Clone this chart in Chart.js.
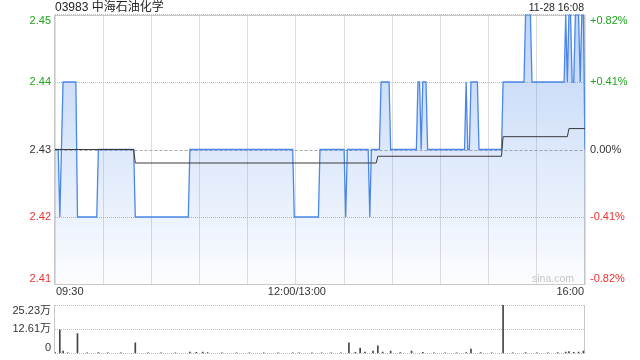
<!DOCTYPE html>
<html>
<head>
<meta charset="utf-8">
<script src="https://cdn.jsdelivr.net/npm/chart.js@4"></script>
<style>
body { margin: 0; background: #fff; }
#wrap { position: relative; width: 640px; height: 360px; overflow: hidden; }
canvas { position: absolute; left: 0; }
#price { top: 0; }
#volume { top: 300px; }
</style>
</head>
<body>
<div id="wrap">
<canvas id="price" width="640" height="300"></canvas>
<canvas id="volume" width="640" height="60"></canvas>
</div>
<script>
const stockName = '03983 中海石油化学';
const stampText = '11-28 16:08';
const prevClose = 2.43;
const priceTicks = [2.41, 2.42, 2.43, 2.44, 2.45];
const pctLabels = ['-0.82%', '-0.41%', '0.00%', '+0.41%', '+0.82%'];
const timeLabels = ['09:30', '12:00/13:00', '16:00'];
const timeLabelAt = [0, 150, 330];

// trading minutes from 09:30 (lunch removed), price at the minutes where it changes
const priceMinutes = [0, 2, 3, 4, 5, 13, 14, 26, 27, 49, 50, 83, 84, 148, 149, 164, 165,
  180, 181, 182, 195, 196, 197, 202, 203, 208, 209, 225, 226, 227, 228, 229, 231, 232,
  255, 256, 257, 258, 259, 263, 264, 278, 279, 292, 293, 296, 297,
  317, 318, 319, 320, 321, 322, 323, 324, 326, 327, 328, 329, 330];
const priceValues = [2.43, 2.43, 2.42, 2.43, 2.44, 2.44, 2.42, 2.42, 2.43, 2.43, 2.42, 2.42, 2.43, 2.43, 2.42, 2.42, 2.43,
  2.43, 2.42, 2.43, 2.43, 2.42, 2.43, 2.43, 2.44, 2.44, 2.43, 2.43, 2.44, 2.44, 2.43, 2.44, 2.44, 2.43,
  2.43, 2.44, 2.43, 2.43, 2.44, 2.44, 2.43, 2.43, 2.44, 2.44, 2.45, 2.45, 2.44,
  2.44, 2.45, 2.44, 2.45, 2.45, 2.44, 2.44, 2.45, 2.45, 2.44, 2.45, 2.45, 2.43];

const avgMinutes = [0, 49, 50, 200, 201, 278, 279, 319, 320, 330];
const avgValues = [2.43, 2.43, 2.428, 2.428, 2.429, 2.429, 2.4319, 2.4319, 2.4331, 2.4331];

// volume, 万股
const volMinutes = [0, 3, 5, 8, 14, 20, 27, 33, 41, 50, 58, 66, 75, 84, 88, 92, 95, 104, 113, 121,
  130, 139, 148, 152, 160, 166, 172, 178, 183, 187, 190, 193, 198, 201, 204, 209, 215, 222, 229,
  236, 243, 250, 256, 259, 265, 272, 279, 285, 293, 300, 307, 313, 318, 320, 323, 326, 329];
const volValues = [0.6, 12.3, 1.3, 0.4, 10.3, 0.3, 0.5, 0.3, 0.3, 5.6, 0.3, 0.3, 0.3, 0.8, 0.6, 0.8, 0.5, 0.3, 0.3, 0.3,
  0.3, 0.3, 0.4, 0.3, 0.3, 0.4, 0.3, 0.4, 5.6, 0.6, 2.8, 0.8, 1.2, 4.0, 0.8, 1.2, 0.5, 1.2, 0.6,
  0.4, 0.4, 0.3, 0.5, 2.3, 0.5, 0.3, 25.23, 0.4, 0.5, 0.3, 0.4, 0.5, 0.7, 1.0, 0.6, 0.7, 1.2];
const volTicks = [0, 12.61, 25.23];
const volTickLabels = ['0', '12.61万', '25.23万'];

const FONT = '"Liberation Sans", Arial, "Noto Sans CJK SC", sans-serif';
const GREEN = '#1fa51f';
const RED = '#ee3030';
const GRID = '#bdbdbd';
const FRAME = '#c8c8c8';

function clampY(py, a) {
  return Math.min(Math.max(py, a.top + 6), a.bottom - 6);
}

function areaFill(c) {
  const { ctx, chartArea } = c.chart;
  if (!chartArea) return 'rgba(74,135,232,0.15)';
  const g = ctx.createLinearGradient(0, chartArea.top, 0, chartArea.bottom);
  g.addColorStop(0, 'rgba(74,135,232,0.36)');
  g.addColorStop(1, 'rgba(74,135,232,0.02)');
  return g;
}

const priceDecor = {
  id: 'priceDecor',
  beforeDatasetsDraw(chart) {
    const { ctx, chartArea: a, scales: { y } } = chart;
    ctx.save();
    ctx.strokeStyle = FRAME;
    ctx.lineWidth = 1;
    const x1 = Math.round(a.left) - 0.5, x2 = Math.round(a.right) - 0.5;
    const y1 = Math.round(a.top) + 0.5, y2 = Math.round(a.bottom) - 0.5;
    ctx.strokeRect(x1, y1, x2 - x1, y2 - y1);
    const py = Math.round(y.getPixelForValue(prevClose)) + 0.5;
    ctx.strokeStyle = '#a8a8a8';
    ctx.setLineDash([3, 2]);
    ctx.beginPath();
    ctx.moveTo(x1, py);
    ctx.lineTo(x2, py);
    ctx.stroke();
    ctx.restore();
  },
  afterDraw(chart) {
    const { ctx, chartArea: a, scales: { x, y } } = chart;
    ctx.save();
    ctx.textBaseline = 'middle';
    ctx.fillStyle = '#222';
    ctx.font = '12px ' + FONT;
    ctx.textAlign = 'left';
    ctx.fillText(stockName, a.left, 8);
    ctx.font = '10.5px ' + FONT;
    ctx.textAlign = 'right';
    ctx.fillText(stampText, 584, 8);

    ctx.font = '11px ' + FONT;
    priceTicks.forEach((v, i) => {
      const cy = clampY(y.getPixelForValue(v), a);
      ctx.fillStyle = v > prevClose + 1e-9 ? GREEN : (v < prevClose - 1e-9 ? RED : '#333');
      ctx.textAlign = 'right';
      ctx.fillText(v.toFixed(2), 51, cy);
      ctx.textAlign = 'left';
      ctx.fillText(pctLabels[i], 590, cy);
    });

    ctx.fillStyle = '#333';
    timeLabels.forEach((t, i) => {
      const px = x.getPixelForValue(timeLabelAt[i]);
      ctx.textAlign = i === 0 ? 'left' : (i === timeLabels.length - 1 ? 'right' : 'center');
      ctx.fillText(t, i === timeLabels.length - 1 ? 584 : px + 1, 292);
    });

    ctx.fillStyle = '#c8c8c8';
    ctx.font = '10.5px ' + FONT;
    ctx.textAlign = 'left';
    ctx.fillText('sina.com', 532, 279);
    ctx.restore();
  }
};

const volDecor = {
  id: 'volDecor',
  beforeDatasetsDraw(chart) {
    const { ctx, chartArea: a } = chart;
    ctx.save();
    ctx.strokeStyle = FRAME;
    ctx.lineWidth = 1;
    ctx.beginPath();
    ctx.moveTo(Math.round(a.left) - 0.5, a.top);
    ctx.lineTo(Math.round(a.left) - 0.5, a.bottom);
    ctx.moveTo(Math.round(a.right) - 0.5, a.top);
    ctx.lineTo(Math.round(a.right) - 0.5, a.bottom);
    ctx.stroke();
    ctx.restore();
  },
  afterDraw(chart) {
    const { ctx, chartArea: a, scales: { y } } = chart;
    ctx.save();
    ctx.textBaseline = 'middle';
    ctx.textAlign = 'right';
    ctx.fillStyle = '#333';
    ctx.font = '11px ' + FONT;
    volTicks.forEach((v, i) => {
      ctx.fillText(volTickLabels[i], 51, clampY(y.getPixelForValue(v), a));
    });
    ctx.restore();
  }
};

new Chart(document.getElementById('price').getContext('2d'), {
  type: 'line',
  data: {
    datasets: [
      {
        data: avgMinutes.map((m, i) => ({ x: m, y: avgValues[i] })),
        borderColor: '#3a3a3a',
        borderWidth: 1,
        pointRadius: 0,
        fill: false,
        order: 0
      },
      {
        data: priceMinutes.map((m, i) => ({ x: m, y: priceValues[i] })),
        borderColor: '#4a87e8',
        borderWidth: 1.3,
        pointRadius: 0,
        fill: 'start',
        backgroundColor: areaFill,
        order: 1
      }
    ]
  },
  options: {
    responsive: false,
    animation: false,
    events: [],
    layout: { padding: { left: 55, right: 55, top: 14.5, bottom: 15.5 } },
    plugins: { legend: { display: false }, tooltip: { enabled: false } },
    scales: {
      x: {
        type: 'linear', min: 0, max: 330, offset: false,
        ticks: { display: false, stepSize: 30 },
        grid: { color: GRID, drawTicks: false, offset: false },
        border: { display: false, dash: [1, 1] }
      },
      y: {
        min: 2.41, max: 2.45,
        afterBuildTicks: s => { s.ticks = priceTicks.map(v => ({ value: v })); },
        ticks: { display: false },
        grid: {
          color: c => (c.tick && Math.abs(c.tick.value - prevClose) < 1e-6) ? 'rgba(0,0,0,0)' : GRID,
          drawTicks: false
        },
        border: { display: false, dash: [1, 1] }
      }
    }
  },
  plugins: [priceDecor]
});

new Chart(document.getElementById('volume').getContext('2d'), {
  type: 'bar',
  data: {
    datasets: [{
      data: volMinutes.map((m, i) => ({ x: m, y: volValues[i] })),
      backgroundColor: '#444',
      barThickness: 1
    }]
  },
  options: {
    responsive: false,
    animation: false,
    events: [],
    layout: { padding: { left: 55, right: 55, top: 5, bottom: 6.5 } },
    plugins: { legend: { display: false }, tooltip: { enabled: false } },
    scales: {
      x: {
        type: 'linear', min: 0, max: 330, offset: false,
        ticks: { display: false },
        grid: { display: false, drawTicks: false, offset: false },
        border: { display: false }
      },
      y: {
        min: 0, max: 25.23,
        afterBuildTicks: s => { s.ticks = volTicks.map(v => ({ value: v })); },
        ticks: { display: false },
        grid: { color: GRID, drawTicks: false },
        border: { display: false, dash: [1, 1] }
      }
    }
  },
  plugins: [volDecor]
});
</script>
</body>
</html>
